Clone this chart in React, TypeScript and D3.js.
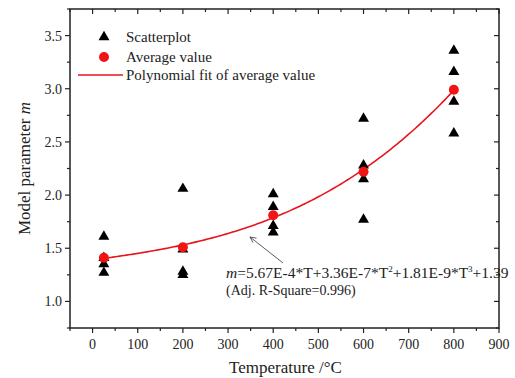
import React from "react";
import * as d3 from "d3";

const temperatures = [25, 200, 400, 600, 800];
const scatterValues = [
  [1.61, 1.41, 1.35, 1.27],
  [2.06, 1.49, 1.28, 1.25],
  [2.01, 1.89, 1.71, 1.65],
  [2.72, 2.28, 2.15, 1.77],
  [3.36, 3.16, 2.88, 2.58],
];
const averageValues = [1.41, 1.51, 1.81, 2.22, 2.99];
// fit coefficients: c0 + c1*T + c2*T^2 + c3*T^3
const fitCoefficients = [1.39, 5.67e-4, 3.36e-7, 1.81e-9];
const xTicks = [0, 100, 200, 300, 400, 500, 600, 700, 800, 900];
const yTicks = [1.0, 1.5, 2.0, 2.5, 3.0, 3.5];

const W = 515, H = 378;
const L = 70, R = 499, T = 9, B = 328;
const FONT = "'Liberation Serif', 'Times New Roman', serif";

export default function App() {
  const x = d3.scaleLinear().domain([-50, 900]).range([L, R]);
  const y = d3.scaleLinear().domain([0.75, 3.75]).range([B, T]);
  const xMinor = d3.range(-50, 901, 50);
  const yMinor = d3.range(0.75, 3.751, 0.25);
  const fitFn = (t: number) =>
    fitCoefficients[0] + fitCoefficients[1] * t + fitCoefficients[2] * t * t + fitCoefficients[3] * t * t * t;
  const tSamples = d3.range(temperatures[0], temperatures[temperatures.length - 1] + 0.1, 5);
  const line = d3.line<number>().x((t) => x(t)).y((t) => y(fitFn(t)));
  const tri = d3.symbol(d3.symbolTriangle, 52)() as string;

  const major = 5, minor = 3;
  return (
    <svg width={W} height={H} style={{ position: "absolute", left: 0, top: 0 }} fontFamily={FONT}>
      <rect x={0} y={0} width={W} height={H} fill="#fff" />
      {/* ticks */}
      <g stroke="#222" strokeWidth={1.2}>
        {xMinor.map((v) => {
          const isMajor = v % 100 === 0;
          const len = isMajor ? major : minor;
          return (
            <g key={"xt" + v}>
              <line x1={x(v)} x2={x(v)} y1={B} y2={B + len} />
              <line x1={x(v)} x2={x(v)} y1={T} y2={T + len} />
            </g>
          );
        })}
        {yMinor.map((v) => {
          const isMajor = Math.abs(v * 2 - Math.round(v * 2)) < 1e-6;
          const len = isMajor ? major : minor;
          return (
            <g key={"yt" + v}>
              <line x1={L} x2={L - len} y1={y(v)} y2={y(v)} />
              <line x1={R} x2={R - len} y1={y(v)} y2={y(v)} />
            </g>
          );
        })}
      </g>
      <rect x={L} y={T} width={R - L} height={B - T} fill="none" stroke="#222" strokeWidth={1.5} />
      {/* tick labels */}
      <g fontSize={14} fill="#222">
        {xTicks.map((v) => (
          <text key={"xl" + v} x={x(v)} y={B + 21} textAnchor="middle">{v}</text>
        ))}
        {yTicks.map((v) => (
          <text key={"yl" + v} x={L - 8} y={y(v) + 5} textAnchor="end">{v.toFixed(1)}</text>
        ))}
      </g>
      {/* axis titles */}
      <text x={(L + R) / 2 + 1} y={373} fontSize={17} textAnchor="middle" fill="#222">Temperature /°C</text>
      <text transform={`translate(30, ${(T + B) / 2}) rotate(-90)`} fontSize={17} textAnchor="middle" fill="#222">
        Model parameter <tspan fontStyle="italic">m</tspan>
      </text>
      {/* fit line */}
      <path d={line(tSamples) as string} fill="none" stroke="#e8141b" strokeWidth={1.6} />
      {/* scatter */}
      {temperatures.map((t, i) =>
        scatterValues[i].map((v, j) => (
          <path key={`s${i}-${j}`} d={tri} transform={`translate(${x(t)},${y(v)})`} fill="#000" />
        ))
      )}
      {temperatures.map((t, i) => (
        <circle key={"a" + i} cx={x(t)} cy={y(averageValues[i])} r={5} fill="#f01414" />
      ))}
      {/* legend */}
      <path d={tri} transform="translate(104,37)" fill="#000" />
      <text x={126} y={42} fontSize={15} fill="#222">Scatterplot</text>
      <circle cx={104} cy={57} r={5} fill="#f01414" />
      <text x={126} y={62} fontSize={15} fill="#222">Average value</text>
      <line x1={78} x2={123} y1={75} y2={75} stroke="#e8141b" strokeWidth={1.6} />
      <text x={126} y={80} fontSize={15} fill="#222">Polynomial fit of average value</text>
      {/* annotation */}
      <g stroke="#333" strokeWidth={0.8} fill="none">
        <line x1={283} y1={263} x2={250} y2={237} />
        <path d="M 256.5 238.2 L 250 237 L 253 242.6" />
      </g>
      <text x={226} y={278} fontSize={15.5} fill="#222">
        <tspan fontStyle="italic">m</tspan>=5.67E-4*T+3.36E-7*T<tspan dy={-6} fontSize={9}>2</tspan>
        <tspan dy={6}>+1.81E-9*T</tspan><tspan dy={-6} fontSize={9}>3</tspan><tspan dy={6}>+1.39</tspan>
      </text>
      <text x={226} y={295} fontSize={14} fill="#222">(Adj. R-Square=0.996)</text>
    </svg>
  );
}
